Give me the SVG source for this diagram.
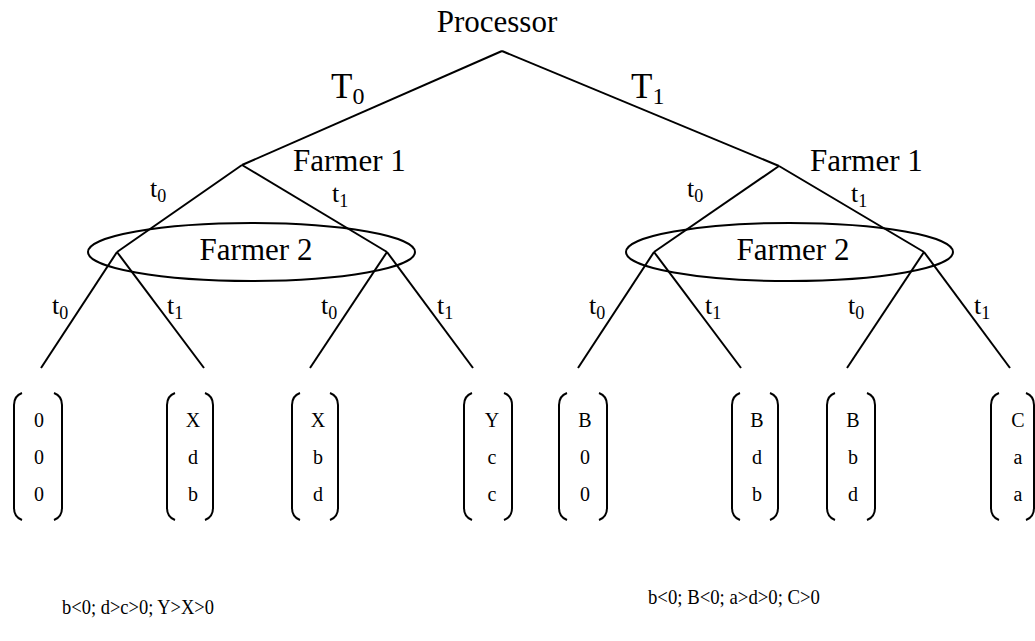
<svg xmlns="http://www.w3.org/2000/svg" width="1035" height="641" viewBox="0 0 1035 641">
<style>
text{font-family:"Liberation Serif","Times New Roman",serif;fill:#000}
.big{font-size:31px}
.lab{font-size:35px}
.sm{font-size:26px}
.v{font-size:20px;text-anchor:middle}
.cond{font-size:22px}
line,ellipse,path{stroke:#000;stroke-width:2;fill:none}
</style>
<defs>
<path id="lb" d="M8,0 Q0,3 0,12 L0,115 Q0,124 8,127"/>
<path id="rb" d="M-8,0 Q0,3 0,12 L0,115 Q0,124 -8,127"/>
</defs>
<g id="connectors">
<line x1="502" y1="51" x2="242" y2="165"/>
<line x1="502" y1="51" x2="779" y2="166"/>
<line x1="242" y1="165" x2="117" y2="252"/>
<line x1="242" y1="165" x2="387" y2="252"/>
<line x1="779" y1="166" x2="654" y2="252"/>
<line x1="779" y1="166" x2="924" y2="252"/>
<line x1="117" y1="252" x2="41" y2="368"/>
<line x1="117" y1="252" x2="204" y2="368"/>
<line x1="387" y1="252" x2="310" y2="368"/>
<line x1="387" y1="252" x2="473" y2="368"/>
<line x1="654" y1="252" x2="578" y2="368"/>
<line x1="654" y1="252" x2="741" y2="368"/>
<line x1="924" y1="252" x2="847" y2="368"/>
<line x1="924" y1="252" x2="1010" y2="368"/>
<text class="lab" x="331" y="98">T<tspan font-size="24" dy="6">0</tspan></text>
<text class="lab" x="631" y="98">T<tspan font-size="24" dy="6">1</tspan></text>
<text class="sm" x="150" y="197">t<tspan font-size="18" dy="5">0</tspan></text>
<text class="sm" x="332" y="202">t<tspan font-size="18" dy="5">1</tspan></text>
<text class="sm" x="687" y="197">t<tspan font-size="18" dy="5">0</tspan></text>
<text class="sm" x="851" y="202">t<tspan font-size="18" dy="5">1</tspan></text>
<text class="sm" x="52" y="314">t<tspan font-size="18" dy="5">0</tspan></text>
<text class="sm" x="167" y="314">t<tspan font-size="18" dy="5">1</tspan></text>
<text class="sm" x="321" y="314">t<tspan font-size="18" dy="5">0</tspan></text>
<text class="sm" x="437" y="314">t<tspan font-size="18" dy="5">1</tspan></text>
<text class="sm" x="589" y="314">t<tspan font-size="18" dy="5">0</tspan></text>
<text class="sm" x="705" y="314">t<tspan font-size="18" dy="5">1</tspan></text>
<text class="sm" x="848" y="314">t<tspan font-size="18" dy="5">0</tspan></text>
<text class="sm" x="974" y="314">t<tspan font-size="18" dy="5">1</tspan></text>
</g>
<g id="processor"><text class="big" x="497" y="32" text-anchor="middle">Processor</text></g>
<g id="farmer1-left"><text class="big" x="293" y="171">Farmer 1</text></g>
<g id="farmer1-right"><text class="big" x="810" y="171">Farmer 1</text></g>
<g id="farmer2-left"><ellipse cx="251.5" cy="252" rx="163.5" ry="29"/><text class="big" x="256" y="260" text-anchor="middle">Farmer 2</text></g>
<g id="farmer2-right"><ellipse cx="789.5" cy="252" rx="163.5" ry="29"/><text class="big" x="793" y="260" text-anchor="middle">Farmer 2</text></g>
<g id="leaf1"><use href="#lb" x="14" y="393"/><use href="#rb" x="62" y="393"/><text class="v" x="39" y="427">0</text><text class="v" x="39" y="464">0</text><text class="v" x="39" y="501">0</text></g>
<g id="leaf2"><use href="#lb" x="167" y="393"/><use href="#rb" x="213" y="393"/><text class="v" x="193" y="427">X</text><text class="v" x="193" y="464">d</text><text class="v" x="193" y="501">b</text></g>
<g id="leaf3"><use href="#lb" x="292" y="393"/><use href="#rb" x="338" y="393"/><text class="v" x="318" y="427">X</text><text class="v" x="318" y="464">b</text><text class="v" x="318" y="501">d</text></g>
<g id="leaf4"><use href="#lb" x="464" y="393"/><use href="#rb" x="512" y="393"/><text class="v" x="492" y="427">Y</text><text class="v" x="492" y="464">c</text><text class="v" x="492" y="501">c</text></g>
<g id="leaf5"><use href="#lb" x="559" y="393"/><use href="#rb" x="607" y="393"/><text class="v" x="585" y="427">B</text><text class="v" x="585" y="464">0</text><text class="v" x="585" y="501">0</text></g>
<g id="leaf6"><use href="#lb" x="732" y="393"/><use href="#rb" x="778" y="393"/><text class="v" x="757" y="427">B</text><text class="v" x="757" y="464">d</text><text class="v" x="757" y="501">b</text></g>
<g id="leaf7"><use href="#lb" x="827" y="393"/><use href="#rb" x="875" y="393"/><text class="v" x="853" y="427">B</text><text class="v" x="853" y="464">b</text><text class="v" x="853" y="501">d</text></g>
<g id="leaf8"><use href="#lb" x="991" y="393"/><use href="#rb" x="1034" y="393"/><text class="v" x="1018" y="427">C</text><text class="v" x="1018" y="464">a</text><text class="v" x="1018" y="501">a</text></g>
<g id="conditions">
<text class="cond" x="62" y="614" textLength="152" lengthAdjust="spacingAndGlyphs">b&lt;0; d&gt;c&gt;0; Y&gt;X&gt;0</text>
<text class="cond" x="648" y="604" textLength="172" lengthAdjust="spacingAndGlyphs">b&lt;0; B&lt;0; a&gt;d&gt;0; C&gt;0</text>
</g>
</svg>
